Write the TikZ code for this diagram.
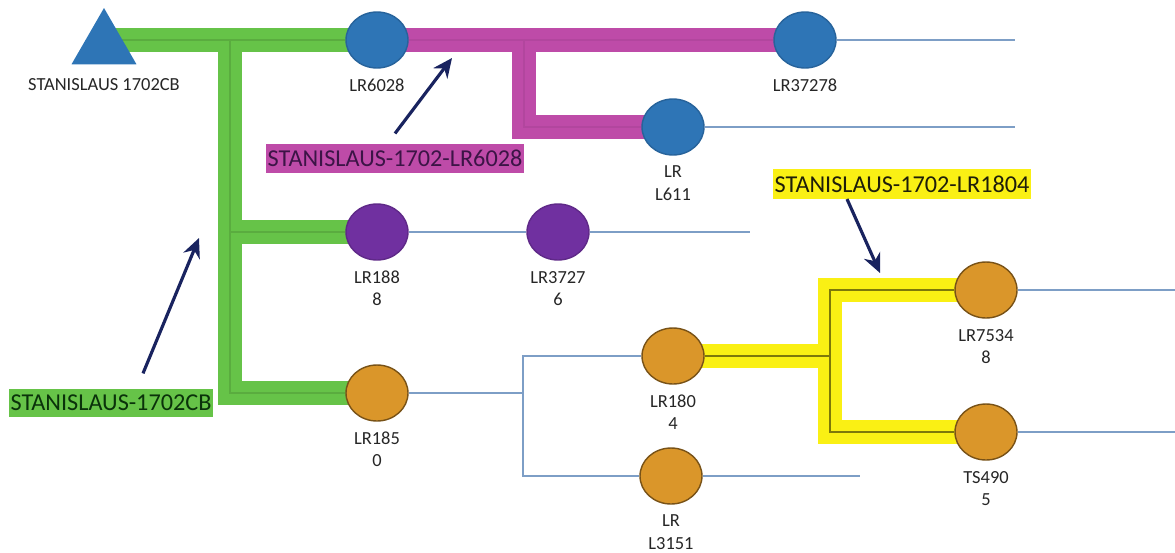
\documentclass[tikz,border=0pt]{standalone}
\usepackage{fontspec}
\setmainfont{Carlito}
\usetikzlibrary{shapes.geometric,positioning,arrows.meta,backgrounds}

\definecolor{nodeblue}{RGB}{46,117,182}
\definecolor{nodepurple}{RGB}{112,48,160}
\definecolor{nodeorange}{RGB}{218,150,42}
\definecolor{bandgreen}{RGB}{102,195,72}
\definecolor{bandmagenta}{RGB}{190,75,168}
\definecolor{bandyellow}{RGB}{250,240,20}
\definecolor{arrownavy}{RGB}{25,35,95}
\definecolor{edgeblue}{RGB}{125,158,198}

\tikzset{
  lr/.style={ellipse,line width=0.8pt,minimum width=1.24cm,minimum height=1.12cm,inner sep=0pt},
  tag/.style={font=\fontsize{10.5}{12.7}\selectfont,text=black!85,align=center,inner sep=0pt},
  callout/.style={font=\fontsize{13.8}{16}\selectfont,inner xsep=1pt,inner ysep=3.6pt},
  band/.style={line width=0.48cm},
  edge/.style={edgeblue,line width=0.85pt},
  pointer/.style={arrownavy,line width=1.8pt,-{Stealth[length=11pt,width=10pt]}}
}

\begin{document}
\begin{tikzpicture}[x=0.02cm,y=-0.02cm]
\useasboundingbox (0,0) rectangle (1175,552);

\node[regular polygon,regular polygon sides=3,minimum size=1.5cm,inner sep=0pt,fill=nodeblue] (cb) at (104,45.5) {};
\node[tag,below=0.27cm of cb] (cbt) {STANISLAUS 1702CB};

\begin{scope}[every node/.append style={lr,fill=nodeblue,draw=nodeblue!85!black}]
\node (r6028) at (377,40) {};
\node (r37278) at (805,40) {};
\node (l611) at (673,127) {};
\end{scope}

\begin{scope}[every node/.append style={lr,fill=nodepurple,draw=nodepurple!85!black}]
\node (r1888) at (377,232) {};
\node (r37276) at (558,232) {};
\end{scope}

\begin{scope}[every node/.append style={lr,fill=nodeorange,draw=nodeorange!55!black}]
\node (r1850) at (377,393) {};
\node (r1804) at (673,356) {};
\node (l3151) at (671,476) {};
\node (r75348) at (986,290) {};
\node (ts4905) at (986,432) {};
\end{scope}

\node[tag,below=0.2cm of r6028] (r6028t) {LR6028};
\node[tag,below=0.2cm of r37278] (r37278t) {LR37278};
\node[tag,below=0.2cm of l611] (l611t) {LR\\L611};
\node[tag,below=0.2cm of r1888] (r1888t) {LR188\\8};
\node[tag,below=0.2cm of r37276] (r37276t) {LR3727\\6};
\node[tag,below=0.2cm of r1850] (r1850t) {LR185\\0};
\node[tag,below=0.2cm of r1804] (r1804t) {LR180\\4};
\node[tag,below=0.2cm of l3151] (l3151t) {LR\\L3151};
\node[tag,below=0.2cm of r75348] (r75348t) {LR7534\\8};
\node[tag,below=0.2cm of ts4905] (ts4905t) {TS490\\5};

\coordinate (j1) at (230,40);
\coordinate (j2) at (524,40);
\coordinate (j3) at (523,393);
\coordinate (j4) at (830,356);
\coordinate (e1) at (1015,40);
\coordinate (e2) at (1015,127);
\coordinate (e3) at (750,232);
\coordinate (e4) at (860,476);
\coordinate (e5) at (1175,290);
\coordinate (e6) at (1175,432);

\begin{scope}[on background layer]
\draw[band,bandgreen] (cb.center |- r6028) -- (r6028.center);
\draw[band,bandgreen] (j1) |- (r1888.center);
\draw[band,bandgreen] (j1) |- (r1850.center);
\draw[band,bandmagenta] (r6028.center) -- (r37278.center);
\draw[band,bandmagenta] (j2) |- (l611.center);
\draw[band,bandyellow] (r1804.center) -- (j4);
\draw[band,bandyellow] (j4) |- (r75348.center);
\draw[band,bandyellow] (j4) |- (ts4905.center);

\begin{scope}[edge,bandgreen!88!black]
\draw (cb.center |- r6028) -- (r6028);
\draw (j1) |- (r1888);
\draw (j1) |- (r1850);
\end{scope}
\begin{scope}[edge,bandmagenta!94!black]
\draw (r6028) -- (r37278);
\draw (j2) |- (l611);
\end{scope}
\begin{scope}[edge,bandyellow!50!black]
\draw (r1804) -- (j4);
\draw (j4) |- (r75348);
\draw (j4) |- (ts4905);
\end{scope}

\draw[edge] (r37278) -- (e1);
\draw[edge] (l611) -- (e2);
\draw[edge] (r1888) -- (r37276);
\draw[edge] (r37276) -- (e3);
\draw[edge] (r1850) -- (j3);
\draw[edge] (j3) |- (r1804);
\draw[edge] (j3) |- (l3151);
\draw[edge] (l3151) -- (e4);
\draw[edge] (r75348) -- (e5);
\draw[edge] (ts4905) -- (e6);
\end{scope}

\node[callout,fill=bandmagenta,text={rgb,255:red,60;green,20;blue,70}] (mtag) at (395,158.5) {STANISLAUS-1702-LR6028};
\node[callout,fill=bandyellow,text={rgb,255:red,30;green,30;blue,10}] (ytag) at (902,184) {STANISLAUS-1702-LR1804};
\node[callout,fill=bandgreen,text={rgb,255:red,10;green,50;blue,10}] (gtag) at (111,403) {STANISLAUS-1702CB};

\coordinate (mtip) at (452,58);
\coordinate (ytip) at (880,273);
\coordinate (gtip) at (199,238);

\draw[pointer] ([yshift=0.2cm]mtag.north) -- (mtip);
\draw[pointer] ([xshift=-1.1cm]ytag.south) -- (ytip);
\draw[pointer] ([xshift=0.64cm,yshift=0.3cm]gtag.north) -- (gtip);

\end{tikzpicture}
\end{document}
